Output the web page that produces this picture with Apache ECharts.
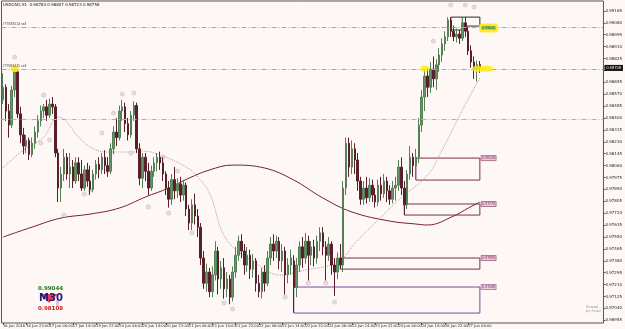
<!DOCTYPE html>
<html>
<head>
<meta charset="utf-8">
<script src="https://cdn.jsdelivr.net/npm/echarts@6/dist/echarts.min.js"></script>
<style>
  html, body { margin: 0; padding: 0; background: #fdf8f6; }
  #chart { width: 625px; height: 329px; }
</style>
</head>
<body>
<div id="chart"></div>
<script>
// USDCAD H1, 16 Jun - 27 Jun 2016
var timeLabels = ['16 Jun 2016', '16 Jun 22:00', '17 Jun 06:00', '17 Jun 14:00', '19 Jun 22:00',
    '20 Jun 06:00', '20 Jun 14:00', '20 Jun 22:00', '21 Jun 06:00', '21 Jun 14:00', '21 Jun 22:00',
    '22 Jun 06:00', '22 Jun 14:00', '22 Jun 22:00', '23 Jun 06:00', '23 Jun 14:00', '23 Jun 22:00',
    '24 Jun 06:00', '24 Jun 14:00', '26 Jun 22:00', '27 Jun 06:00'];

var priceTicks = [0.96955, 0.97040, 0.97125, 0.97210, 0.97295, 0.97380, 0.97465, 0.97550, 0.97635,
    0.97720, 0.97805, 0.97890, 0.97975, 0.98060, 0.98145, 0.98230, 0.98315, 0.98400, 0.98485,
    0.98570, 0.98655, 0.98740, 0.98825, 0.98910, 0.98995, 0.99080, 0.99165];

// [open, close, low, high]
var bars = [
    [0.9853, 0.9862, 0.9850, 0.9872], [0.9862, 0.9845, 0.9838, 0.9864], [0.9845, 0.9835, 0.9826, 0.9850],
    [0.9835, 0.9860, 0.9833, 0.9863], [0.9860, 0.9873, 0.9855, 0.9876], [0.9873, 0.9843, 0.9840, 0.9875],
    [0.9843, 0.9828, 0.9822, 0.9848], [0.9828, 0.9820, 0.9814, 0.9833], [0.9820, 0.9824, 0.9815, 0.9828],
    [0.9824, 0.9814, 0.9810, 0.9826], [0.9814, 0.9822, 0.9812, 0.9826], [0.9822, 0.9830, 0.9818, 0.9834],
    [0.9830, 0.9838, 0.9826, 0.9842], [0.9838, 0.9845, 0.9834, 0.9849], [0.9845, 0.9848, 0.9840, 0.9850],
    [0.9848, 0.9842, 0.9838, 0.9853], [0.9842, 0.9850, 0.9840, 0.9854], [0.9850, 0.9848, 0.9843, 0.9855],
    [0.9848, 0.9815, 0.9812, 0.9850], [0.9815, 0.9790, 0.9780, 0.9818], [0.9790, 0.9800, 0.9780, 0.9805],
    [0.9800, 0.9812, 0.9795, 0.9818], [0.9812, 0.9800, 0.9796, 0.9815], [0.9800, 0.9805, 0.9790, 0.9815],
    [0.9805, 0.9795, 0.9790, 0.9810], [0.9795, 0.9808, 0.9793, 0.9812], [0.9808, 0.9800, 0.9795, 0.9812],
    [0.9800, 0.9790, 0.9788, 0.9810], [0.9790, 0.9803, 0.9788, 0.9806], [0.9803, 0.9795, 0.9791, 0.9808],
    [0.9795, 0.9789, 0.9785, 0.9806], [0.9789, 0.9800, 0.9787, 0.9803], [0.9800, 0.9807, 0.9796, 0.9810],
    [0.9807, 0.9803, 0.9797, 0.9812], [0.9803, 0.9812, 0.9800, 0.9815], [0.9812, 0.9806, 0.9800, 0.9817],
    [0.9806, 0.9802, 0.9798, 0.9812], [0.9802, 0.9818, 0.9800, 0.9822], [0.9818, 0.9830, 0.9814, 0.9834],
    [0.9830, 0.9826, 0.9820, 0.9840], [0.9826, 0.9845, 0.9824, 0.9849], [0.9845, 0.9848, 0.9838, 0.9853],
    [0.9848, 0.9836, 0.9830, 0.9851], [0.9836, 0.9828, 0.9824, 0.9840], [0.9828, 0.9842, 0.9826, 0.9845],
    [0.9842, 0.9849, 0.9838, 0.9852], [0.9849, 0.9818, 0.9815, 0.9851], [0.9818, 0.9797, 0.9792, 0.9822],
    [0.9797, 0.9812, 0.9790, 0.9815], [0.9812, 0.9802, 0.9795, 0.9815], [0.9802, 0.9790, 0.9785, 0.9808],
    [0.9790, 0.9802, 0.9788, 0.9806], [0.9802, 0.9808, 0.9798, 0.9812], [0.9808, 0.9812, 0.9802, 0.9815],
    [0.9812, 0.9808, 0.9803, 0.9816], [0.9808, 0.9800, 0.9795, 0.9812], [0.9800, 0.9790, 0.9785, 0.9802],
    [0.9790, 0.9782, 0.9776, 0.9795], [0.9782, 0.9796, 0.9778, 0.9800], [0.9796, 0.9788, 0.9782, 0.9805],
    [0.9788, 0.9793, 0.9783, 0.9797], [0.9793, 0.9785, 0.9780, 0.9798], [0.9785, 0.9792, 0.9781, 0.9796],
    [0.9792, 0.9775, 0.9770, 0.9794], [0.9775, 0.9765, 0.9760, 0.9778], [0.9765, 0.9778, 0.9760, 0.9782],
    [0.9778, 0.9770, 0.9764, 0.9786], [0.9770, 0.9762, 0.9755, 0.9775], [0.9762, 0.9740, 0.9735, 0.9765],
    [0.9740, 0.9722, 0.9718, 0.9745], [0.9722, 0.9730, 0.9716, 0.9736], [0.9730, 0.9716, 0.9712, 0.9733],
    [0.9716, 0.9728, 0.9712, 0.9734], [0.9728, 0.9745, 0.9724, 0.9752], [0.9745, 0.9725, 0.9714, 0.9748],
    [0.9725, 0.9733, 0.9718, 0.9738], [0.9733, 0.9718, 0.9711, 0.9740], [0.9718, 0.9725, 0.9712, 0.9730],
    [0.9725, 0.9712, 0.9707, 0.9728], [0.9712, 0.9730, 0.9709, 0.9734], [0.9730, 0.9742, 0.9726, 0.9748],
    [0.9742, 0.9752, 0.9738, 0.9756], [0.9752, 0.9745, 0.9740, 0.9757], [0.9745, 0.9735, 0.9728, 0.9750],
    [0.9735, 0.9742, 0.9730, 0.9748], [0.9742, 0.9732, 0.9725, 0.9746], [0.9732, 0.9738, 0.9726, 0.9743],
    [0.9738, 0.9722, 0.9716, 0.9740], [0.9722, 0.9716, 0.9712, 0.9728], [0.9716, 0.9730, 0.9711, 0.9733],
    [0.9730, 0.9722, 0.9716, 0.9735], [0.9722, 0.9740, 0.9720, 0.9745], [0.9740, 0.9750, 0.9735, 0.9755],
    [0.9750, 0.9745, 0.9738, 0.9757], [0.9745, 0.9752, 0.9740, 0.9756], [0.9752, 0.9738, 0.9732, 0.9755],
    [0.9738, 0.9745, 0.9730, 0.9750], [0.9745, 0.9728, 0.9714, 0.9748], [0.9728, 0.9735, 0.9722, 0.9740],
    [0.9735, 0.9740, 0.9728, 0.9746], [0.9738, 0.9719, 0.9701, 0.9742], [0.9719, 0.9735, 0.9712, 0.9740],
    [0.9735, 0.9748, 0.9730, 0.9752], [0.9748, 0.9740, 0.9733, 0.9755], [0.9740, 0.9752, 0.9736, 0.9758],
    [0.9752, 0.9742, 0.9724, 0.9756], [0.9742, 0.9748, 0.9735, 0.9752], [0.9748, 0.9740, 0.9734, 0.9753],
    [0.9740, 0.9752, 0.9736, 0.9756], [0.9752, 0.9758, 0.9745, 0.9762], [0.9758, 0.9748, 0.9742, 0.9762],
    [0.9748, 0.9742, 0.9724, 0.9752], [0.9742, 0.9750, 0.9738, 0.9755], [0.9750, 0.9735, 0.9728, 0.9752],
    [0.9735, 0.9730, 0.9713, 0.9740], [0.9730, 0.9740, 0.9725, 0.9744], [0.9740, 0.9735, 0.9732, 0.9750],
    [0.9735, 0.9790, 0.9730, 0.9795], [0.9790, 0.9822, 0.9785, 0.9826], [0.9822, 0.9805, 0.9798, 0.9826],
    [0.9805, 0.9818, 0.9800, 0.9824], [0.9818, 0.9810, 0.9800, 0.9822], [0.9810, 0.9795, 0.9788, 0.9815],
    [0.9795, 0.9782, 0.9778, 0.9798], [0.9782, 0.9790, 0.9778, 0.9795], [0.9790, 0.9783, 0.9779, 0.9798],
    [0.9783, 0.9792, 0.9780, 0.9797], [0.9792, 0.9785, 0.9780, 0.9796], [0.9785, 0.9780, 0.9776, 0.9790],
    [0.9780, 0.9792, 0.9777, 0.9796], [0.9792, 0.9786, 0.9781, 0.9798], [0.9786, 0.9795, 0.9783, 0.9800],
    [0.9795, 0.9788, 0.9780, 0.9798], [0.9788, 0.9782, 0.9778, 0.9792], [0.9782, 0.9790, 0.9779, 0.9795],
    [0.9790, 0.9792, 0.9781, 0.9798], [0.9792, 0.9805, 0.9788, 0.9810], [0.9805, 0.9790, 0.9785, 0.9812],
    [0.9790, 0.9778, 0.9771, 0.9795], [0.9778, 0.9800, 0.9775, 0.9803], [0.9800, 0.9812, 0.9796, 0.9820],
    [0.9812, 0.9806, 0.9798, 0.9815], [0.9806, 0.9812, 0.9796, 0.9818], [0.9812, 0.9835, 0.9808, 0.9840],
    [0.9835, 0.9855, 0.9830, 0.9860], [0.9855, 0.9870, 0.9845, 0.9875], [0.9870, 0.9862, 0.9855, 0.9876],
    [0.9862, 0.9875, 0.9858, 0.9880], [0.9875, 0.9868, 0.9862, 0.9884], [0.9868, 0.9878, 0.9860, 0.9882],
    [0.9878, 0.9885, 0.9873, 0.9890], [0.9885, 0.9893, 0.9880, 0.9897], [0.9893, 0.9898, 0.9888, 0.9902],
    [0.9898, 0.9910, 0.9895, 0.9912], [0.9910, 0.9902, 0.9898, 0.9912], [0.9902, 0.9898, 0.9895, 0.9906],
    [0.9898, 0.9900, 0.9894, 0.9904], [0.9900, 0.9897, 0.9893, 0.9903], [0.9897, 0.9908, 0.9895, 0.9912],
    [0.9908, 0.9902, 0.9898, 0.9912], [0.9902, 0.9888, 0.9885, 0.9905], [0.9888, 0.9880, 0.9876, 0.9892],
    [0.9880, 0.9875, 0.9868, 0.9884], [0.9875, 0.9878, 0.9866, 0.9881], [0.98783, 0.98758, 0.98723, 0.98807]
];

// slow MA (solid) and fast MA (dotted), [bar, price]
var maSlow = [[0, 0.97550], [10, 0.97621], [20, 0.97686], [30, 0.97714], [40, 0.97757], [49, 0.97836],
    [57, 0.97900], [64, 0.97971], [71, 0.98029], [79, 0.98064], [90, 0.98043], [100, 0.97957],
    [110, 0.97829], [120, 0.97729], [133, 0.97664], [142, 0.97643], [146, 0.97636], [155, 0.97700],
    [160, 0.97757], [164, 0.97800]];
var maFast = [[0, 0.98043], [7, 0.98171], [14, 0.98264], [19, 0.98407], [27, 0.98243], [32, 0.98171],
    [37, 0.98157], [45, 0.98157], [48, 0.98164], [54, 0.98136], [63, 0.98050], [67, 0.97979],
    [71, 0.97864], [77, 0.97529], [88, 0.97350], [95, 0.97279], [104, 0.97314], [115, 0.97371],
    [122, 0.97529], [129, 0.97671], [136, 0.97814], [146, 0.97993], [151, 0.98171], [158, 0.98457],
    [164, 0.98686]];

var fractals = [[4, 0.98836], [14, 0.98564], [13, 0.98221], [16, 0.98243], [21, 0.97707], [28, 0.97857],
    [30, 0.97886], [34, 0.98293], [36, 0.98021], [38, 0.98436], [41, 0.98571], [44, 0.98150],
    [45, 0.98579], [50, 0.97764], [55, 0.98121], [57, 0.97721], [60, 0.98021], [65, 0.97579],
    [76, 0.97079], [79, 0.97036], [97, 0.97121], [105, 0.97221], [111, 0.97221], [114, 0.97086],
    [148, 0.98950], [154, 0.99207], [159, 0.99207], [162, 0.99193]];

// zones: [fromBar, toBar, top, bottom, label]
var zones = [
    [142, 164, 0.98114, 0.97957, '0.98108'],
    [138, 164, 0.97786, 0.97707, '0.97776'],
    [116, 164, 0.97400, 0.97321, '0.97393'],
    [100, 164, 0.97193, 0.97007, '0.97188']
];
var topBoxes = [[154, 158, 0.99121, 0.99029], [158, 164, 0.99121, 0.99057]];

var orderLevels = [0.99050, 0.98752];
var orderNames = ['#77583514 sell', '#77583415 sell'];
var pivotLevel = 0.98393;
var lastPrice = 0.98758;
var highLabel = 0.99044;

var cats = [];
for (var i = 0; i < 207; i++) cats.push(i);

var myChart = echarts.init(document.getElementById('chart'));

var zoneColors = ['#7b2d4f', '#7b2d4f', '#7b2d4f', '#7d4a9c'];
var areaData = zones.map(function (z, k) {
    return [{ coord: [z[0], z[2]], itemStyle: { color: 'rgba(0,0,0,0)', borderColor: zoneColors[k], borderWidth: 1 } },
            { coord: [z[1], z[3]] }];
});
topBoxes.forEach(function (b) {
    areaData.push([{ coord: [b[0], b[2]], itemStyle: { color: 'rgba(0,0,0,0)', borderColor: '#1f3320', borderWidth: 1 } },
                   { coord: [b[1], b[3]] }]);
});

var pointData = zones.map(function (z, k) {
    return {
        coord: [167, z[2]], symbol: 'rect', symbolSize: [15, 5],
        itemStyle: { color: '#edcadb', borderColor: zoneColors[k], borderWidth: 0.5 },
        label: { show: true, position: 'inside', formatter: z[4], fontSize: 3.5, color: '#7b2d4f' }
    };
});
// yellow highlights
pointData.push({ coord: [4, orderLevels[1]], symbol: 'circle', symbolSize: [8, 7], itemStyle: { color: 'rgba(255,236,0,0.8)' }, label: { show: false } });
pointData.push({ coord: [145, orderLevels[1]], symbol: 'circle', symbolSize: [9, 6], itemStyle: { color: 'rgba(255,236,0,0.8)' }, label: { show: false } });
pointData.push({ coord: [165, orderLevels[1]], symbol: 'roundRect', symbolSize: [20, 6], itemStyle: { color: 'rgba(255,236,0,0.8)' }, label: { show: false } });
pointData.push({
    coord: [167, highLabel], symbol: 'roundRect', symbolSize: [19, 9], itemStyle: { color: 'rgba(255,236,0,0.85)' },
    label: { show: true, position: 'inside', formatter: highLabel.toFixed(5), fontSize: 3.5, color: '#1f4a1f', backgroundColor: '#a9cf66', padding: [0, 1] }
});

var lineData = orderLevels.map(function (v, k) {
    return {
        yAxis: v,
        lineStyle: { color: '#8fb88f', type: [5, 2, 1, 2], width: 1 },
        label: { show: true, position: 'insideStartTop', formatter: orderNames[k], fontSize: 3.5, color: '#444', distance: 1 }
    };
});
lineData.push({ yAxis: pivotLevel, lineStyle: { color: '#cfa98f', type: [5, 2, 1, 2], width: 1 }, label: { show: false } });
lineData.push({
    yAxis: lastPrice, lineStyle: { color: 'rgba(0,0,0,0)', width: 0.1 },
    label: { show: true, position: 'end', formatter: lastPrice.toFixed(5), fontSize: 4, color: '#ffffff', backgroundColor: '#111111', padding: [1, 2], distance: 1 }
});

option = {
    backgroundColor: '#fdf8f6',
    animation: false,
    grid: { left: 0, right: 16, top: 1, bottom: 6, show: true, borderColor: '#555', borderWidth: 1 },
    xAxis: {
        type: 'category',
        data: cats,
        axisLine: { show: false },
        axisTick: {
            show: true, length: 2, alignWithLabel: true,
            interval: function (idx) { return idx % 8 === 0 && idx <= 160; },
            lineStyle: { color: '#555' }
        },
        axisLabel: {
            interval: function (idx) { return idx % 8 === 0 && idx <= 160; },
            formatter: function (v, idx) { return timeLabels[idx / 8] || ''; },
            showMinLabel: true,
            hideOverlap: false,
            fontSize: 3.7, color: '#222', align: 'left', margin: 1, fontFamily: 'DejaVu Sans'
        },
        splitLine: { show: false }
    },
    yAxis: {
        type: 'value',
        position: 'right',
        min: 0.96936,
        max: 0.99236,
        axisLine: { show: false },
        axisTick: { show: true, length: 2, customValues: priceTicks, lineStyle: { color: '#555' } },
        axisLabel: {
            customValues: priceTicks,
            formatter: function (v) { return v.toFixed(5); },
            fontSize: 4, color: '#222', margin: 2, fontFamily: 'DejaVu Sans'
        },
        splitLine: { show: false }
    },
    series: [
        {
            name: 'MA slow',
            type: 'line',
            data: maSlow,
            smooth: 0.4,
            symbol: 'none',
            clip: false,
            lineStyle: { color: '#7a1f2f', width: 1 },
            markLine: { silent: true, symbol: 'none', precision: 5, data: lineData },
            z: 1
        },
        {
            name: 'MA fast',
            type: 'line',
            data: maFast,
            smooth: 0.4,
            symbol: 'none',
            lineStyle: { color: '#b49d9d', width: 1, type: 'dotted' },
            z: 1
        },
        {
            name: 'USDCAD',
            type: 'candlestick',
            data: bars,
            barWidth: 2,
            itemStyle: {
                color: '#6a9468',
                color0: '#5a1f2c',
                borderColor: '#557f55',
                borderColor0: '#5a1f2c',
                borderWidth: 1
            },
            markArea: { silent: true, data: areaData, label: { show: false } },
            markPoint: { silent: true, data: pointData },
            z: 3
        },
        {
            name: 'Fractals',
            type: 'scatter',
            data: fractals,
            symbol: 'emptyCircle',
            symbolSize: 3,
            itemStyle: { color: '#d3cccc', borderColor: '#d3cccc', borderWidth: 0.6 },
            z: 2
        }
    ],
    graphic: [
        { type: 'text', left: 3, top: 3, style: { text: 'USDCAD,H1  0.98783 0.98807 0.98723 0.98758', fill: '#111', font: '4px DejaVu Sans' } },
        {
            type: 'group', left: 38, top: 286, children: [
                { type: 'polygon', shape: { points: [[2, 8], [20, 8], [11, 17]] }, style: { fill: '#e8405c' } },
                { type: 'rect', shape: { x: 18, y: 14, width: 3, height: 6 }, style: { fill: '#f0c0c8' } },
                { type: 'text', style: { x: 0, y: 0, text: '0.99044', fill: '#1a7a1a', font: 'bold 5.5px DejaVu Sans' } },
                { type: 'text', style: { x: 1, y: 7, text: 'M30', fill: '#1c1c80', font: 'bold 10px DejaVu Sans' } },
                { type: 'text', style: { x: 0, y: 20, text: '0.98108', fill: '#d02020', font: 'bold 5.5px DejaVu Sans' } }
            ]
        },
        { type: 'text', left: 586, top: 305, style: { text: 'Shared\nby Forex', fill: '#999', font: '3.5px DejaVu Sans', lineHeight: 4, align: 'center' } }
    ]
};

myChart.setOption(option);
</script>
</body>
</html>
